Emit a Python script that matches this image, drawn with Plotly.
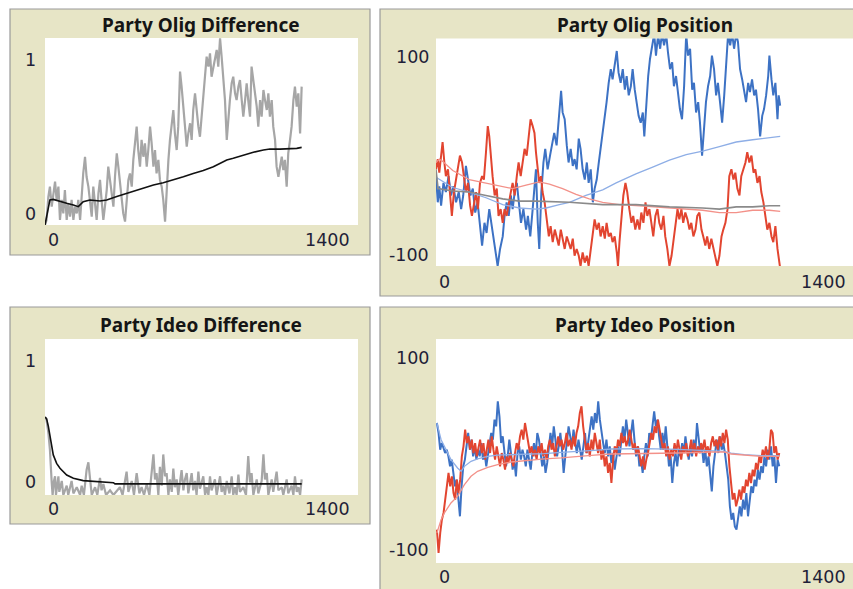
import plotly.graph_objects as go

W, H = 853, 589

# ---------------- Party Olig Difference ----------------
OLIG_DIFF_T = [0,7,15,22,30,37,45,52,60,67,75,82,89,97,104,112,119,127,134,142,149,157,164,171,179,186,194,201,209,216,224,
               231,239,246,253,261,268,276,283,291,298,306,313,321,328,335,343,350,358,365,373,380,388,395,403,410,417,425,432,440,447,
               455,462,470,477,485,492,499,507,514,522,529,537,544,552,559,567,574,581,589,596,604,611,619,626,634,641,649,656,663,671,
               678,686,693,701,708,716,723,731,738,745,753,760,768,775,783,790,798,805,813,820,827,835,842,850,857,865,872,880,887,895,
               902,909,917,924,932,939,947,954,962,969,977,984,992,999,1006,1014,1021,1029,1036,1044,1051,1059,1066,1073,1081,1088,1096,
               1103,1111,1118,1126,1133,1141,1148]
OLIG_DIFF_V = [0.0,0.027,0.15,0.205,0.098,0.169,0.232,0.134,0.205,0.027,0.134,0.062,0.187,0.027,0.116,0.045,0.134,0.027,0.098,0.062,0.134,
               0.027,0.187,0.276,0.365,0.258,0.205,0.134,0.045,0.205,0.098,0.027,0.169,0.241,0.134,0.027,0.098,0.187,0.312,0.241,0.169,
               0.098,0.258,0.383,0.312,0.223,0.134,0.062,0.018,0.134,0.241,0.276,0.205,0.348,0.455,0.526,0.401,0.312,0.455,0.365,0.437,
               0.312,0.401,0.526,0.437,0.312,0.401,0.276,0.348,0.241,0.205,0.134,0.018,0.205,0.348,0.455,0.561,0.615,0.49,0.401,0.526,
               0.82,0.74,0.615,0.526,0.419,0.49,0.544,0.455,0.615,0.704,0.615,0.526,0.472,0.579,0.704,0.793,0.9,0.847,0.918,0.793,
               0.847,0.9,0.936,0.847,0.998,0.9,0.793,0.668,0.455,0.579,0.668,0.758,0.793,0.704,0.668,0.74,0.775,0.668,0.579,0.668,
               0.758,0.668,0.579,0.847,0.775,0.704,0.633,0.526,0.668,0.579,0.722,0.668,0.615,0.704,0.579,0.668,0.526,0.455,0.312,0.258,
               0.312,0.365,0.294,0.348,0.205,0.383,0.455,0.526,0.668,0.74,0.633,0.704,0.49,0.74]
OLIG_DIFF_AVG_T = [0,15,22,37,67,97,127,149,171,201,246,276,321,365,395,440,485,529,574,619,663,708,753,783,813,842,887,932,977,1006,1051,1096,1126,1148]
OLIG_DIFF_AVG_V = [0.0,0.098,0.134,0.137,0.125,0.116,0.107,0.098,0.125,0.134,0.128,0.134,0.152,0.169,0.178,0.196,0.214,0.226,0.241,0.258,
                   0.276,0.291,0.312,0.33,0.348,0.357,0.374,0.389,0.401,0.406,0.406,0.406,0.41,0.415]

# ---------------- Party Olig Position ----------------
OLIG_BLUE_T = [0,6,11,17,25,33,42,50,58,67,76,84,91,100,107,115,123,131,139,147,154,162,169,178,185,192,198,206,214,223,
               229,236,243,250,256,263,270,276,284,292,301,307,315,323,330,334,340,345,352,359,365,373,381,388,395,403,410,418,423,430,
               437,443,450,457,463,470,477,483,490,497,504,510,517,524,530,537,544,550,557,564,570,577,584,590,597,604,610,617,624,631,
               637,644,651,657,664,671,677,684,691,696,702,709,715,722,729,735,742,749,755,762,769,775,782,789,795,802,809,815,822,829,
               836,842,849,856,862,869,876,882,889,896,902,909,916,922,929,936,942,949,956,963,969,976,983,989,996,1003,1009,1016,1023,1029,
               1036,1043,1049,1056,1063,1069,1076,1083,1090,1096,1103,1110,1114,1121,1127,1134,1141,1145,1150]
OLIG_BLUE_V = [-21,-44,-30,-47,-27,-35,-21,-38,-30,-44,-35,-50,-38,-12,-24,-38,-32,-53,-44,-68,-82,-62,-71,-50,-62,-74,-88,-100,-85,-74,
               -56,-44,-56,-38,-50,-35,-27,-44,-62,-50,-68,-56,-74,-50,-24,-15,-62,-85,-35,-9,3,-15,-3,9,17,6,29,54,35,29,
               6,-9,3,-12,-6,-15,12,3,-15,-24,-9,-27,-15,-44,-32,-24,-9,3,14,29,44,61,73,64,76,89,70,61,73,55,
               67,50,58,73,55,44,32,26,35,14,44,67,82,94,104,85,103,91,105,94,104,88,73,79,58,67,50,38,29,58,
               104,85,91,55,61,35,44,26,-3,26,44,58,67,85,73,50,61,44,26,50,73,104,94,105,91,104,97,73,64,53,
               44,61,53,64,50,55,38,14,32,38,50,67,85,64,50,61,29,50,41]
OLIG_RED_T = [0,6,11,17,22,28,33,40,47,53,60,67,73,80,87,94,100,107,114,120,127,134,140,147,154,160,167,173,178,184,
              189,196,203,209,216,223,229,236,243,250,256,263,270,276,283,290,296,303,310,316,323,329,334,340,345,351,356,363,370,377,
              383,390,397,403,410,417,423,430,437,443,450,457,463,470,477,483,490,497,504,510,517,524,530,537,544,550,557,564,570,577,
              584,590,597,604,608,613,619,626,633,639,646,653,659,666,673,680,686,693,700,706,713,720,726,733,740,746,753,760,766,773,
              780,787,793,800,807,813,820,826,833,840,847,853,860,867,873,880,887,893,900,906,913,920,927,933,940,947,954,960,967,974,
              980,987,994,1000,1007,1014,1020,1027,1034,1040,1047,1054,1061,1067,1074,1081,1087,1094,1101,1107,1114,1121,1127,1134,1141,1147,1150]
OLIG_RED_V = [-15,-6,-18,0,9,-9,-21,-15,-38,-56,-35,-24,-15,-3,-9,-21,-35,-27,-47,-56,-44,-35,-50,-27,-21,-24,0,23,14,-9,
              -21,-38,-32,-56,-50,-62,-50,-56,-44,-35,-27,-38,-21,-9,-21,-9,3,-3,14,29,23,17,0,-15,-27,-21,-35,-44,-59,-74,
              -65,-79,-68,-74,-82,-68,-76,-85,-74,-79,-85,-76,-91,-85,-91,-100,-88,-97,-91,-100,-85,-74,-59,-68,-62,-74,-65,-76,-62,-74,
              -71,-79,-74,-88,-100,-79,-56,-38,-27,-35,-50,-62,-56,-68,-59,-68,-53,-62,-44,-56,-50,-62,-74,-56,-50,-62,-68,-56,-74,-85,
              -100,-91,-79,-62,-50,-59,-50,-62,-53,-59,-68,-62,-74,-68,-56,-53,-68,-74,-82,-74,-85,-76,-85,-91,-100,-91,-74,-68,-62,-50,
              -21,-15,-24,-18,-32,-38,-21,-15,-9,0,-9,-3,-18,-15,-27,-21,-35,-44,-56,-68,-62,-74,-79,-65,-85,-100,-102]
OLIG_BLUE_AVG_T = [0,56,111,167,223,279,334,368,412,446,501,535,557,602,668,724,780,836,891,947,1003,1058,1114,1150]
OLIG_BLUE_AVG_V = [-22,-31,-35,-40,-46,-49,-50,-49,-46,-44,-38,-35,-33,-27,-19,-13,-7,-2,1,5,9,11,13,14]
OLIG_RED_AVG_T = [0,11,22,56,111,167,223,256,301,345,379,423,468,512,557,613,668,780,891,947,1003,1058,1114,1150]
OLIG_RED_AVG_V = [-9,-6,-8,-16,-24,-27,-30,-32,-29,-26,-28,-32,-37,-41,-44,-46,-47,-49,-51,-53,-53,-51,-51,-52]
OLIG_GRAY_T = [0,3,7,56,111,167,223,279,334,446,557,668,780,891,947,1003,1058,1114,1150]
OLIG_GRAY_V = [-15,-24,-32,-34,-35,-38,-41,-43,-43,-44,-46,-46,-48,-49,-50,-48,-48,-47,-47]

# ---------------- Party Ideo Difference ----------------
IDEO_DIFF_T = [0,7,15,22,30,34,40,45,49,60,64,75,82,97,104,119,127,142,157,164,174,186,194,201,209,224,234,246,253,261,273,291,306,
               335,347,365,373,388,398,410,422,432,443,455,467,485,492,499,507,514,522,529,537,544,552,559,567,574,581,589,596,611,619,
               626,634,641,656,663,671,678,686,693,708,716,723,731,738,745,760,768,783,790,798,805,813,825,835,842,850,857,865,872,887,
               899,909,917,924,932,947,954,969,977,984,992,999,1014,1021,1036,1044,1059,1066,1081,1088,1103,1111,1118,1126,1133,1141,1148]
IDEO_DIFF_V = [0.5,0.48,0.40,0.29,0.08,0.0,0.09,0.12,0.0,0.12,0.02,0.09,0.0,0.06,0.0,0.09,0.01,0.05,0.0,0.06,0.0,0.16,0.21,0.12,0.0,
               0.05,0.0,0.11,0.03,0.07,0.0,0.03,0.0,0.05,0.0,0.15,0.02,0.09,0.0,0.14,0.01,0.05,0.0,0.07,0.0,0.26,0.1,0.14,0.0,0.18,
               0.06,0.26,0.12,0.14,0.0,0.1,0.02,0.17,0.05,0.1,0.0,0.16,0.03,0.1,0.14,0.01,0.14,0.03,0.09,0.0,0.15,0.04,0.12,0.0,0.05,
               0.0,0.12,0.03,0.1,0.0,0.12,0.02,0.06,0.0,0.09,0.01,0.12,0.0,0.05,0.0,0.13,0.02,0.05,0.0,0.25,0.08,0.14,0.0,0.1,0.01,
               0.09,0.26,0.1,0.14,0.0,0.1,0.02,0.15,0.03,0.05,0.0,0.1,0.01,0.06,0.0,0.12,0.02,0.05,0.0,0.1]
IDEO_DIFF_AVG_T = [0,7,15,22,30,37,52,67,97,127,171,246,306,313,395,544,842,1148]
IDEO_DIFF_AVG_V = [0.5,0.49,0.44,0.375,0.31,0.257,0.203,0.171,0.128,0.107,0.092,0.086,0.079,0.071,0.071,0.071,0.071,0.071]

# ---------------- Party Ideo Position ----------------
IDEO_START, IDEO_END = 3, 1147   # ticks covered by the evenly sampled series below
IDEO_BLUE_V = [25.0,16.1,1.2,7.1,2.7,-1.8,1.2,-4.8,-13.7,-7.7,
               -19.6,-31.5,-25.6,-43.4,-58.3,-31.5,-13.7,-7.7,7.1,16.1,
               1.2,10.1,-4.8,4.2,-7.7,1.2,-4.8,7.1,-7.7,-1.8,
               -13.7,-4.8,4.2,16.1,10.1,28.0,22.0,44.3,31.0,7.1,
               13.1,-1.8,-13.7,-4.8,10.1,-1.8,-16.7,-7.7,-22.6,-1.8,
               4.2,-7.7,1.2,-4.8,-13.7,1.2,-7.7,-16.7,-1.8,7.1,
               -4.8,16.1,10.1,-1.8,-13.7,-4.8,-19.6,-10.7,1.2,16.1,
               4.2,22.0,10.1,-4.8,4.2,16.1,1.2,-19.6,-4.8,10.1,
               22.0,13.1,4.2,19.0,7.1,-1.8,10.1,1.2,-7.7,4.2,
               16.1,-1.8,10.1,22.0,31.0,19.0,33.9,25.0,44.3,28.0,
               16.1,7.1,-1.8,10.1,-4.8,4.2,-10.7,-1.8,-16.7,-7.7,
               4.2,-4.8,7.1,22.0,10.1,28.0,16.1,4.2,16.1,28.0,
               10.1,-4.8,4.2,-13.7,-7.7,-19.6,-4.8,7.1,-4.8,16.1,
               10.1,25.0,35.4,22.0,28.0,13.1,1.2,16.1,4.2,22.0,
               7.1,-13.7,-4.8,-28.6,-10.7,-1.8,-13.7,1.2,-4.8,7.1,
               -1.8,13.1,1.2,-7.7,4.2,-4.8,10.1,-1.8,25.0,10.1,
               -1.8,4.2,-10.7,1.2,-13.7,-4.8,-22.6,-36.0,-13.7,1.2,
               10.1,-1.8,13.1,1.2,7.1,-1.8,-13.7,-25.6,-49.4,-61.3,
               -55.3,-67.3,-70.2,-58.3,-49.4,-58.3,-43.4,-52.4,-37.5,-58.3,
               -43.4,-31.5,-37.5,-25.6,-31.5,-16.7,-25.6,-13.7,-19.6,-4.8,
               -13.7,1.2,-7.7,4.2,-13.7,-4.8,-28.6,-7.7,-13.7]
IDEO_RED_V = [-70.2,-91.1,-73.2,-61.3,-55.3,-43.4,-31.5,-19.6,-31.5,-22.6,
              -37.5,-43.4,-25.6,-37.5,-25.6,-4.8,4.2,19.0,7.1,13.1,
              1.2,10.1,-1.8,7.1,-4.8,4.2,10.1,-1.8,7.1,-7.7,
              1.2,10.1,-1.8,13.1,1.2,-7.7,4.2,-4.8,-13.7,-1.8,
              -7.7,-16.7,-4.8,-10.7,-1.8,-7.7,-13.7,-1.8,7.1,1.2,
              13.1,19.0,10.1,25.0,16.1,7.1,-1.8,4.2,-4.8,1.2,
              -7.7,4.2,-1.8,7.1,-4.8,1.2,-7.7,4.2,10.1,1.2,
              7.1,-4.8,4.2,13.1,4.2,10.1,1.2,7.1,16.1,4.2,
              10.1,1.2,13.1,4.2,16.1,22.0,33.9,39.9,22.0,10.1,
              -1.8,7.1,-4.8,10.1,1.2,16.1,7.1,-1.8,10.1,-7.7,
              1.2,-13.7,-4.8,-19.6,-10.7,-28.6,-7.7,4.2,-1.8,10.1,
              4.2,16.1,7.1,13.1,4.2,10.1,19.0,10.1,1.2,7.1,
              -1.8,4.2,-4.8,-13.7,-4.8,-16.7,-7.7,-1.8,7.1,16.1,
              10.1,22.0,16.1,28.0,19.0,10.1,1.2,7.1,-4.8,4.2,
              -7.7,1.2,-4.8,7.1,-1.8,10.1,1.2,-7.7,4.2,-1.8,
              7.1,-4.8,1.2,10.1,-1.8,7.1,-4.8,4.2,-1.8,7.1,
              1.2,10.1,-1.8,4.2,-4.8,7.1,13.1,4.2,10.1,1.2,
              13.1,4.2,16.1,7.1,19.0,10.1,-13.7,-31.5,-43.4,-37.5,
              -49.4,-43.4,-34.5,-43.4,-31.5,-37.5,-25.6,-31.5,-19.6,-28.6,
              -16.7,-22.6,-10.7,-16.7,-4.8,-10.7,1.2,-4.8,4.2,-7.7,
              1.2,19.0,16.1,-1.8,4.2,-7.7,-1.8]
IDEO_BLUE_AVG_T = [3,17,28,50,72,84,95,117,139,173,206,251,306,362,418,473,529,585,696,808,919,964,986,1030,1086,1147]
IDEO_BLUE_AVG_V = [25.0,10.1,4.2,-7.7,-15.2,-18.1,-13.7,-9.2,-7.1,-4.8,-3.6,-3.3,-3.3,-2.4,-1.2,-0.6,0.6,1.8,2.1,1.5,0.3,-0.3,-1.8,-3.3,-4.2,-4.2]
IDEO_RED_AVG_T = [3,17,28,50,72,95,117,139,173,206,251,306,362,418,473,529,585,696,808,919,964,986,1030,1086,1147]
IDEO_RED_AVG_V = [-73.2,-61.3,-55.3,-46.4,-40.5,-30.1,-22.6,-18.1,-14.6,-12.2,-9.8,-8.3,-7.1,-6.2,-4.8,-3.6,-2.7,-2.4,-1.8,-0.9,-0.9,-2.7,-3.9,-4.8,-4.8]

TITLES = ["Party Olig Difference", "Party Olig Position", "Party Ideo Difference", "Party Ideo Position"]
X_LABELS = ["0", "1400"]
DIFF_Y_LABELS = ["0", "1"]
POS_Y_LABELS = ["-100", "100"]


def evenly(start, end, n):
    step = (end - start) / (n - 1)
    return [start + i * step for i in range(n)]


# ---------------- styling / geometry (pixels) ----------------
BEIGE = "#E7E5C6"
BORDER = "#9a9a9a"
BLUE = "#3d72c4"
RED = "#e24530"
LBLUE = "#8eaee6"
LRED = "#f39189"
GRAY_POS = "#8a8a8a"
GRAY_DIFF = "#a6a6a6"
TXT = "#1f1f38"
TITLE_FONT = dict(family="Noto Sans", size=19, color="#151515")
LABEL_FONT = dict(family="DejaVu Sans", size=17.5, color=TXT)

POS_XMAX = 1400 * (853 - 436) / (855 - 436)   # plot area runs slightly past the window edge
PANELS = [
    dict(box=(10, 9, 370, 255), plot=(45, 38, 358, 225), xr=(0, 1400), yr=(0, 1), ylab=DIFF_Y_LABELS,
         ylab_y=(214, 60), ylab_x=38, xlab_y=240, title_y=25, xlab_right=352, title_cx=201),
    dict(box=(380, 9, 870, 296), plot=(436, 38.5, 853, 266), xr=(0, POS_XMAX), yr=(-100, 100),
         ylab=POS_Y_LABELS, ylab_y=(255, 57), ylab_x=431, xlab_y=282, title_y=25, xlab_right=848, title_cx=645),
    dict(box=(10, 307, 370, 524), plot=(45, 339, 358, 495), xr=(0, 1400), yr=(0, 1), ylab=DIFF_Y_LABELS,
         ylab_y=(482, 361), ylab_x=38, xlab_y=509, title_y=325, xlab_right=352, title_cx=201),
    dict(box=(380, 307, 870, 620), plot=(436, 339, 853, 563), xr=(0, POS_XMAX), yr=(-100, 100),
         ylab=POS_Y_LABELS, ylab_y=(550, 358), ylab_x=431, xlab_y=577, title_y=325, xlab_right=848, title_cx=645),
]


def px(x):
    return x / W


def py(y):
    return 1 - y / H


fig = go.Figure()
shapes = []
annotations = []
layout_axes = {}

for i, p in enumerate(PANELS, start=1):
    bx0, by0, bx1, by1 = p["box"]
    shapes.append(dict(type="rect", xref="paper", yref="paper", x0=px(bx0), x1=px(bx1), y0=py(by1), y1=py(by0),
                       fillcolor=BEIGE, line=dict(color=BORDER, width=1.2), layer="below"))
    qx0, qy0, qx1, qy1 = p["plot"]
    sx = "" if i == 1 else str(i)
    layout_axes["xaxis" + sx] = dict(domain=[px(qx0), min(1.0, px(qx1))], range=list(p["xr"]), anchor="y" + sx,
                                     showgrid=False, zeroline=False, showticklabels=False, showline=False, ticks="",
                                     fixedrange=True)
    layout_axes["yaxis" + sx] = dict(domain=[py(qy1), py(qy0)], range=list(p["yr"]), anchor="x" + sx,
                                     showgrid=False, zeroline=False, showticklabels=False, showline=False, ticks="",
                                     fixedrange=True)
    shapes.append(dict(type="rect", xref="x" + sx + " domain", yref="y" + sx + " domain", x0=0, x1=1, y0=0, y1=1,
                       fillcolor="white", line=dict(width=0), layer="below"))
    annotations.append(dict(text="<b>" + TITLES[i - 1] + "</b>", xref="paper", yref="paper",
                            x=px(p["title_cx"]), y=py(p["title_y"]), xanchor="center", yanchor="middle",
                            showarrow=False, font=TITLE_FONT))
    for lab, yy in zip(p["ylab"], p["ylab_y"]):
        annotations.append(dict(text=lab, xref="paper", yref="paper", x=px(p["ylab_x"]), y=py(yy),
                                xanchor="right", yanchor="middle", showarrow=False, font=LABEL_FONT))
    annotations.append(dict(text=X_LABELS[0], xref="paper", yref="paper", x=px(qx0 + 1), y=py(p["xlab_y"]),
                            xanchor="left", yanchor="middle", showarrow=False, font=LABEL_FONT))
    annotations.append(dict(text=X_LABELS[1], xref="paper", yref="paper", x=px(p["xlab_right"]),
                            y=py(p["xlab_y"]), xanchor="right", yanchor="middle", showarrow=False, font=LABEL_FONT))


def line(x, y, color, width, ax):
    fig.add_trace(go.Scatter(x=x, y=y, mode="lines", line=dict(color=color, width=width),
                             xaxis="x" + ax, yaxis="y" + ax, showlegend=False, hoverinfo="skip"))


# panel 1
line(OLIG_DIFF_T, OLIG_DIFF_V, GRAY_DIFF, 2.2, "")
line(OLIG_DIFF_AVG_T, OLIG_DIFF_AVG_V, "#111111", 1.6, "")
# panel 2
line(OLIG_BLUE_T, OLIG_BLUE_V, BLUE, 2.0, "2")
line(OLIG_RED_T, OLIG_RED_V, RED, 2.0, "2")
line(OLIG_BLUE_AVG_T, OLIG_BLUE_AVG_V, LBLUE, 1.3, "2")
line(OLIG_RED_AVG_T, OLIG_RED_AVG_V, LRED, 1.3, "2")
line(OLIG_GRAY_T, OLIG_GRAY_V, GRAY_POS, 1.6, "2")
# panel 3
line(IDEO_DIFF_T, IDEO_DIFF_V, GRAY_DIFF, 2.2, "3")
line(IDEO_DIFF_AVG_T, IDEO_DIFF_AVG_V, "#111111", 1.6, "3")
# panel 4
line(evenly(IDEO_START, IDEO_END, len(IDEO_BLUE_V)), IDEO_BLUE_V, BLUE, 2.0, "4")
line(evenly(IDEO_START, IDEO_END, len(IDEO_RED_V)), IDEO_RED_V, RED, 2.0, "4")
line(IDEO_BLUE_AVG_T, IDEO_BLUE_AVG_V, LBLUE, 1.3, "4")
line(IDEO_RED_AVG_T, IDEO_RED_AVG_V, LRED, 1.3, "4")

fig.update_layout(width=W, height=H, margin=dict(l=0, r=0, t=0, b=0), paper_bgcolor="white",
                  plot_bgcolor="rgba(0,0,0,0)", shapes=shapes, annotations=annotations, showlegend=False,
                  **layout_axes)

fig.write_html("out.html", config={"displayModeBar": False},
               post_script="document.body.style.margin='0';document.body.style.overflow='hidden';")
